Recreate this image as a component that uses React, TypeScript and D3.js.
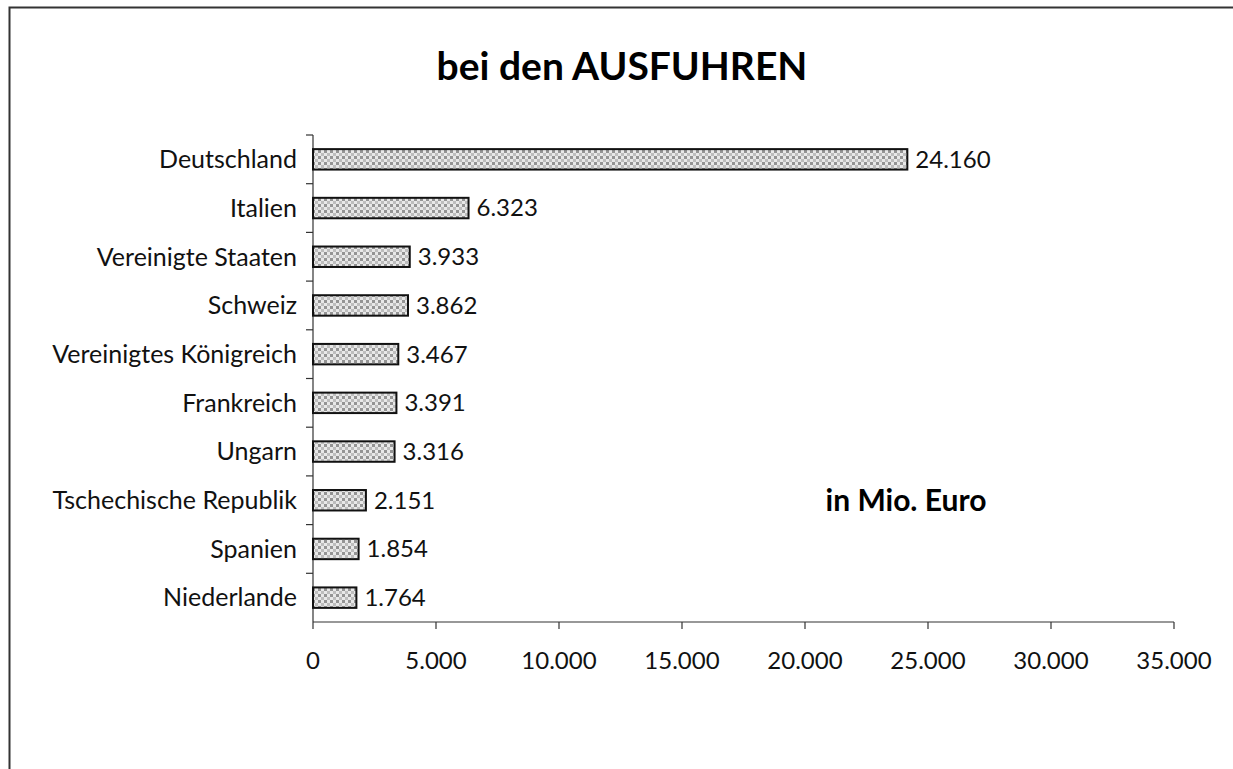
import React, { useEffect, useRef } from "react";
import * as d3 from "d3";

const categories = [
  "Deutschland",
  "Italien",
  "Vereinigte Staaten",
  "Schweiz",
  "Vereinigtes Königreich",
  "Frankreich",
  "Ungarn",
  "Tschechische Republik",
  "Spanien",
  "Niederlande",
];
const values = [24160, 6323, 3933, 3862, 3467, 3391, 3316, 2151, 1854, 1764];
const xTicks = [0, 5000, 10000, 15000, 20000, 25000, 30000, 35000];

const W = 1233;
const H = 769;
const font = "Lato, 'Open Sans', sans-serif";

export default function App() {
  const svgRef = useRef<SVGSVGElement>(null);

  useEffect(() => {
    const svg = d3.select(svgRef.current);
    svg.selectAll("*").remove();

    const de = d3.formatLocale({
      decimal: ",",
      thousands: ".",
      grouping: [3],
      currency: ["", " €"],
    });
    const fmt = de.format(",d");

    // checker pattern for the bars
    const defs = svg.append("defs");
    const pat = defs
      .append("pattern")
      .attr("id", "checker")
      .attr("patternUnits", "userSpaceOnUse")
      .attr("width", 6)
      .attr("height", 6);
    pat.append("rect").attr("width", 6).attr("height", 6).attr("fill", "#e8e8e8");
    pat.append("rect").attr("width", 3).attr("height", 3).attr("fill", "#949494");
    pat.append("rect").attr("x", 3).attr("y", 3).attr("width", 3).attr("height", 3).attr("fill", "#bdbdbd");

    // frame
    svg
      .append("rect")
      .attr("x", 9.5)
      .attr("y", 7.5)
      .attr("width", W + 20)
      .attr("height", H + 20)
      .attr("fill", "white")
      .attr("stroke", "#333")
      .attr("stroke-width", 2);

    const left = 313;
    const right = 1174;
    const top = 135;
    const bottom = 622;

    const x = d3.scaleLinear().domain([0, 35000]).range([left, right]);
    const y = d3.scaleBand().domain(categories).range([top, bottom]).paddingInner(0.58).paddingOuter(0.29);
    const band = d3.scaleBand().domain(categories).range([top, bottom]);

    // title
    svg
      .append("text")
      .attr("x", 622)
      .attr("y", 80)
      .attr("text-anchor", "middle")
      .attr("font-family", font)
      .attr("font-weight", "bold")
      .attr("font-size", 39)
      .text("bei den AUSFUHREN");

    // y axis line + ticks at band boundaries
    const g = svg.append("g").attr("stroke", "#333").attr("stroke-width", 1.2);
    g.append("line").attr("x1", left).attr("x2", left).attr("y1", top).attr("y2", bottom);
    categories.forEach((c) => {
      g.append("line")
        .attr("x1", left - 7)
        .attr("x2", left)
        .attr("y1", band(c)!)
        .attr("y2", band(c)!);
    });

    // x axis
    g.append("line").attr("x1", left).attr("x2", right).attr("y1", bottom).attr("y2", bottom);
    xTicks.forEach((t) => {
      g.append("line").attr("x1", x(t)).attr("x2", x(t)).attr("y1", bottom).attr("y2", bottom + 7);
    });
    svg
      .append("g")
      .selectAll("text")
      .data(xTicks)
      .enter()
      .append("text")
      .attr("x", (d) => x(d))
      .attr("y", 669)
      .attr("text-anchor", "middle")
      .attr("font-family", font)
      .attr("font-size", 24)
      .attr("fill", "#111")
      .text((d) => fmt(d));

    // category labels
    svg
      .append("g")
      .selectAll("text")
      .data(categories)
      .enter()
      .append("text")
      .attr("x", 297)
      .attr("y", (d) => band(d)! + band.bandwidth() / 2)
      .attr("dy", "0.35em")
      .attr("text-anchor", "end")
      .attr("font-family", font)
      .attr("font-size", 25)
      .attr("fill", "#111")
      .text((d) => d);

    // bars
    svg
      .append("g")
      .selectAll("rect")
      .data(values)
      .enter()
      .append("rect")
      .attr("x", left)
      .attr("y", (d, i) => y(categories[i])!)
      .attr("width", (d) => x(d) - left)
      .attr("height", y.bandwidth())
      .attr("fill", "url(#checker)")
      .attr("stroke", "#111")
      .attr("stroke-width", 2);

    // value labels
    svg
      .append("g")
      .selectAll("text")
      .data(values)
      .enter()
      .append("text")
      .attr("x", (d) => x(d) + 8)
      .attr("y", (d, i) => band(categories[i])! + band.bandwidth() / 2)
      .attr("dy", "0.35em")
      .attr("font-family", font)
      .attr("font-size", 24)
      .attr("fill", "#111")
      .text((d) => fmt(d));

    svg
      .append("text")
      .attr("x", 906)
      .attr("y", band("Tschechische Republik")! + band.bandwidth() / 2)
      .attr("dy", "0.35em")
      .attr("text-anchor", "middle")
      .attr("font-family", font)
      .attr("font-weight", "bold")
      .attr("font-size", 30)
      .text("in Mio. Euro");
  }, []);

  return (
    <svg
      ref={svgRef}
      width={W}
      height={H}
      style={{ position: "absolute", left: 0, top: 0, display: "block" }}
    />
  );
}
